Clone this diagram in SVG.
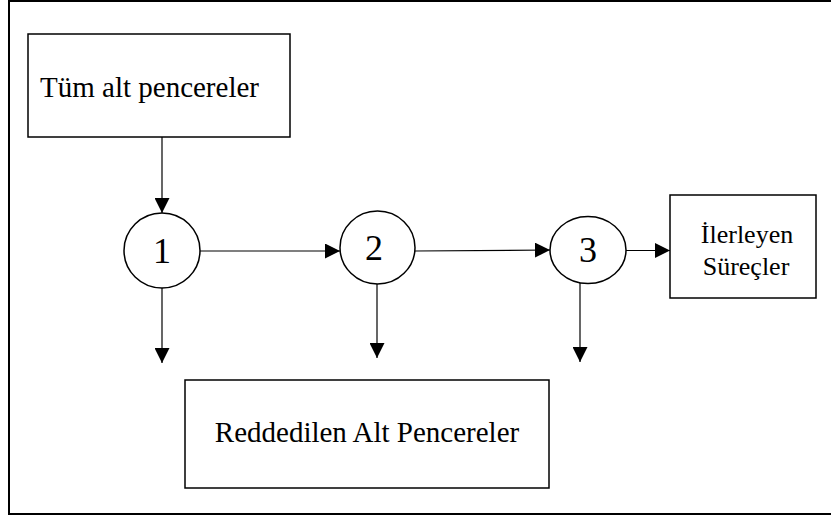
<svg xmlns="http://www.w3.org/2000/svg" width="831" height="517" viewBox="0 0 831 517">
  <defs>
    <marker id="arrow" viewBox="0 0 10 10" refX="10" refY="5" markerWidth="15" markerHeight="15" markerUnits="userSpaceOnUse" orient="auto">
      <path d="M0,0 L10,5 L0,10 Z" fill="#000"/>
    </marker>
    <style>
      .box { fill: #fff; stroke: #000; stroke-width: 1.5; }
      .node { fill: #fff; stroke: #000; stroke-width: 1.5; }
      .edge { stroke: #000; stroke-width: 1.2; fill: none; marker-end: url(#arrow); }
      .label { font-family: "Liberation Serif", "Times New Roman", serif; fill: #000; }
    </style>
  </defs>
  <rect width="831" height="517" fill="#fff"/>
  <!-- outer frame -->
  <rect x="9" y="1" width="830" height="513" fill="none" stroke="#000" stroke-width="2"/>

  <g id="connectors">
    <line class="edge" x1="162" y1="137" x2="162" y2="213"/>
    <line class="edge" x1="200" y1="251" x2="340" y2="251"/>
    <line class="edge" x1="415" y1="251" x2="550" y2="250"/>
    <line class="edge" x1="626" y1="250.5" x2="670" y2="250.5"/>
    <line class="edge" x1="162" y1="288" x2="162" y2="363"/>
    <line class="edge" x1="377" y1="284" x2="377" y2="358"/>
    <line class="edge" x1="580" y1="283" x2="580" y2="362"/>
  </g>

  <g id="all-subwindows">
    <rect class="box" x="28" y="34" width="262" height="103"/>
    <text class="label" x="40" y="97" font-size="29">Tüm alt pencereler</text>
  </g>

  <g id="stage-1">
    <ellipse class="node" cx="162" cy="250.5" rx="38" ry="37.5"/>
    <text class="label" x="162" y="263" font-size="36" text-anchor="middle">1</text>
  </g>

  <g id="stage-2">
    <ellipse class="node" cx="377.5" cy="247.5" rx="37.5" ry="36.5"/>
    <text class="label" x="374" y="260" font-size="36" text-anchor="middle">2</text>
  </g>

  <g id="stage-3">
    <ellipse class="node" cx="588" cy="250" rx="38" ry="33.5"/>
    <text class="label" x="588" y="262" font-size="36" text-anchor="middle">3</text>
  </g>

  <g id="passing-processes">
    <rect class="box" x="670" y="195" width="146" height="103"/>
    <text class="label" x="747" y="243" font-size="26" text-anchor="middle">İlerleyen</text>
    <text class="label" x="746" y="275" font-size="26" text-anchor="middle">Süreçler</text>
  </g>

  <g id="rejected-subwindows">
    <rect class="box" x="185" y="380" width="364" height="108"/>
    <text class="label" x="367" y="442" font-size="29" text-anchor="middle">Reddedilen Alt Pencereler</text>
  </g>
</svg>
